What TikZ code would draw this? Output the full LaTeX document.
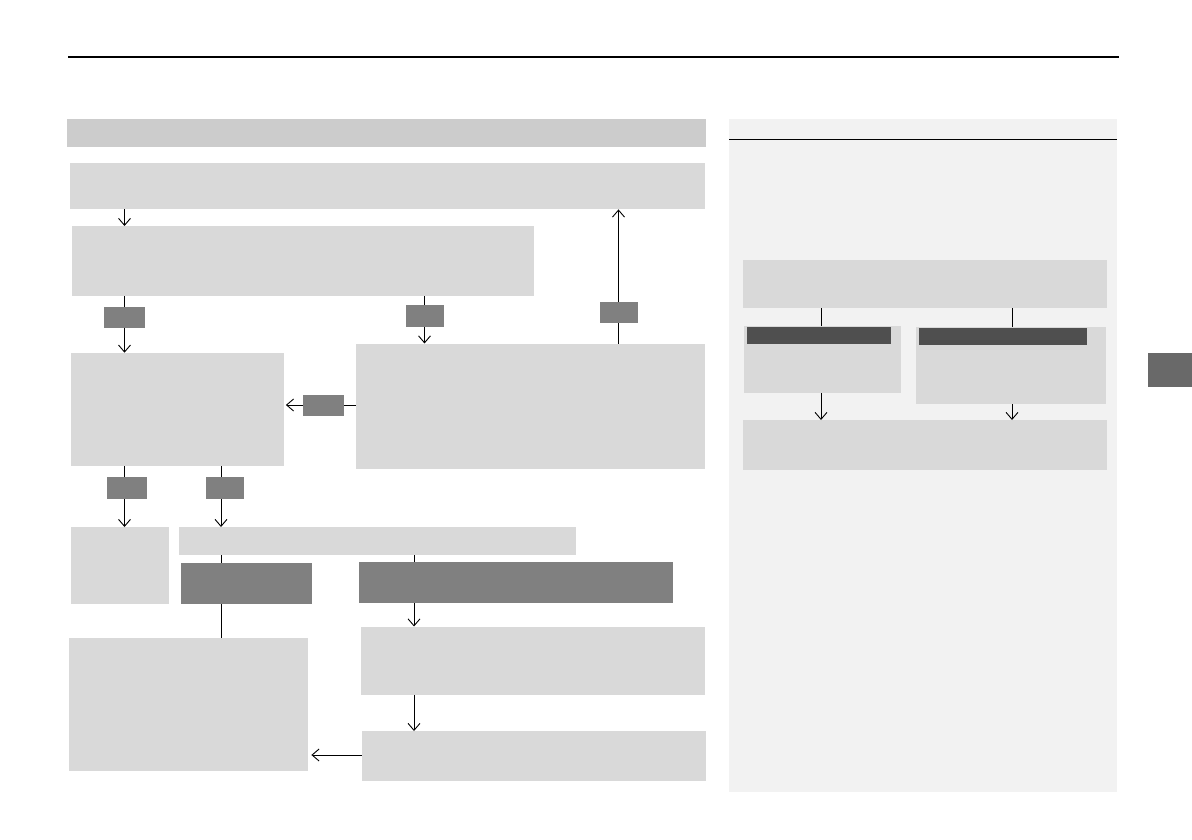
\documentclass[tikz,border=0pt]{standalone}
\usetikzlibrary{arrows.meta}
\definecolor{boxgray}{HTML}{D9D9D9}
\definecolor{headgray}{HTML}{CCCCCC}
\definecolor{labgray}{HTML}{808080}
\definecolor{panelgray}{HTML}{F2F2F2}
\definecolor{darkhead}{HTML}{4F4F4F}
\definecolor{tabgray}{HTML}{696969}
\tikzset{
  bx/.style={fill=boxgray, draw=none, inner sep=0pt, anchor=north west, rectangle},
  hb/.style={fill=headgray, draw=none, inner sep=0pt, anchor=north west, rectangle},
  lab/.style={fill=labgray, draw=none, inner sep=0pt, anchor=north west, rectangle},
  dh/.style={fill=darkhead, draw=none, inner sep=0pt, anchor=north west, rectangle},
  ln/.style={line width=0.9pt, black},
  arr/.style={line width=0.9pt, black, -{Straight Barb[length=7pt,width=12pt,line width=0.9pt]}},
}
\begin{document}
\begin{tikzpicture}[x=1pt,y=-1pt]
\useasboundingbox (0,0) rectangle (1192,840);
% page rule
\coordinate (ruleL) at (68,57);
\coordinate (ruleR) at (1119,57);
\draw[line width=1.4pt] (ruleL) -- (ruleR);
% right panel background
\node[fill=panelgray, inner sep=0pt, anchor=north west, minimum width=388pt, minimum height=673pt] (panel) at (729,119) {};
\coordinate (pl) at (729,139.5);
\coordinate (pr) at (1117,139.5);
\draw[line width=1pt] (pl) -- (pr);
% side tab
\node[fill=tabgray, inner sep=0pt, anchor=north west, minimum width=44pt, minimum height=34pt] (tab) at (1148,353) {};

% helper x coordinates
\coordinate (x124) at (124.5,0);
\coordinate (x221) at (221,0);
\coordinate (x414) at (414,0);
\coordinate (x424) at (424.5,0);
\coordinate (x618) at (618.5,0);
\coordinate (x821) at (821,0);
\coordinate (x1012) at (1012,0);
\coordinate (y405) at (0,405);
\coordinate (y755) at (0,755);

% left flow boxes
\node[hb, minimum width=639pt, minimum height=28pt] (head) at (67,119) {};
\node[bx, minimum width=635pt, minimum height=46pt] (A) at (70,163) {};
\node[bx, minimum width=462pt, minimum height=70pt] (B) at (72,226) {};
\node[bx, minimum width=212.5pt, minimum height=113pt] (C) at (71,352.7) {};
\node[bx, minimum width=349.5pt, minimum height=125.5pt] (E) at (355.5,343.5) {};
\node[bx, minimum width=98pt, minimum height=76.7pt] (F) at (71,527) {};
\node[bx, minimum width=397pt, minimum height=27.7pt] (G) at (179,527) {};
\node[lab, minimum width=131pt, minimum height=40.7pt] (H) at (181,563) {};
\node[lab, minimum width=314pt, minimum height=40.7pt] (I) at (359,562) {};
\node[bx, minimum width=239pt, minimum height=133pt] (J) at (69,637.7) {};
\node[bx, minimum width=344.5pt, minimum height=68pt] (K) at (360.5,626.5) {};
\node[bx, minimum width=344pt, minimum height=49.7pt] (L) at (361.5,731) {};

% label boxes
\node[lab, minimum width=41pt, minimum height=21pt] (l1) at (104,306.5) {};
\node[lab, minimum width=38pt, minimum height=21.7pt] (l2) at (406,305) {};
\node[lab, minimum width=38pt, minimum height=21pt] (l3) at (599.5,302) {};
\node[lab, minimum width=41pt, minimum height=20.7pt] (l4) at (303,395) {};
\node[lab, minimum width=40pt, minimum height=21.7pt] (l5) at (107,477) {};
\node[lab, minimum width=37.5pt, minimum height=21.7pt] (l6) at (206,477) {};

% connectors
\draw[arr] (A.south -| x124) -- (B.north -| x124);
\draw[ln] (B.south -| x124) -- (l1.north -| x124);
\draw[arr] (l1.south -| x124) -- (C.north -| x124);
\draw[ln] (B.south -| x424) -- (l2.north -| x424);
\draw[arr] (l2.south -| x424) -- (E.north -| x424);
\draw[ln] (E.north -| x618) -- (l3.south -| x618);
\draw[arr] (l3.north -| x618) -- (A.south -| x618);
\draw[ln] (E.west |- y405) -- (l4.east |- y405);
\draw[arr] (l4.west |- y405) -- ([xshift=2pt]C.east |- y405);
\draw[ln] (C.south -| x124) -- (l5.north -| x124);
\draw[arr] (l5.south -| x124) -- (F.north -| x124);
\draw[ln] (C.south -| x221) -- (l6.north -| x221);
\draw[arr] (l6.south -| x221) -- (G.north -| x221);
\draw[ln] (G.south -| x221) -- (H.north -| x221);
\draw[ln] (G.south -| x414) -- (I.north -| x414);
\draw[ln] (H.south -| x221) -- (J.north -| x221);
\draw[arr] (I.south -| x414) -- (K.north -| x414);
\draw[arr] (K.south -| x414) -- (L.north -| x414);
\draw[arr] (L.west |- y755) -- ([xshift=3pt]J.east |- y755);

% right panel flow
\node[bx, minimum width=364pt, minimum height=47.7pt] (R1) at (743,260) {};
\node[bx, minimum width=157pt, minimum height=67pt] (R2) at (744,326) {};
\node[dh, minimum width=144pt, minimum height=17pt] (R2h) at (747,327) {};
\node[bx, minimum width=190pt, minimum height=77pt] (R3) at (916,327) {};
\node[dh, minimum width=168pt, minimum height=17pt] (R3h) at (919,328) {};
\node[bx, minimum width=364pt, minimum height=50pt] (R4) at (743,420) {};
\draw[ln] (R1.south -| x821) -- (R2.north -| x821);
\draw[ln] (R1.south -| x1012) -- (R3.north -| x1012);
\draw[arr] (R2.south -| x821) -- (R4.north -| x821);
\draw[arr] (R3.south -| x1012) -- (R4.north -| x1012);
\end{tikzpicture}
\end{document}
